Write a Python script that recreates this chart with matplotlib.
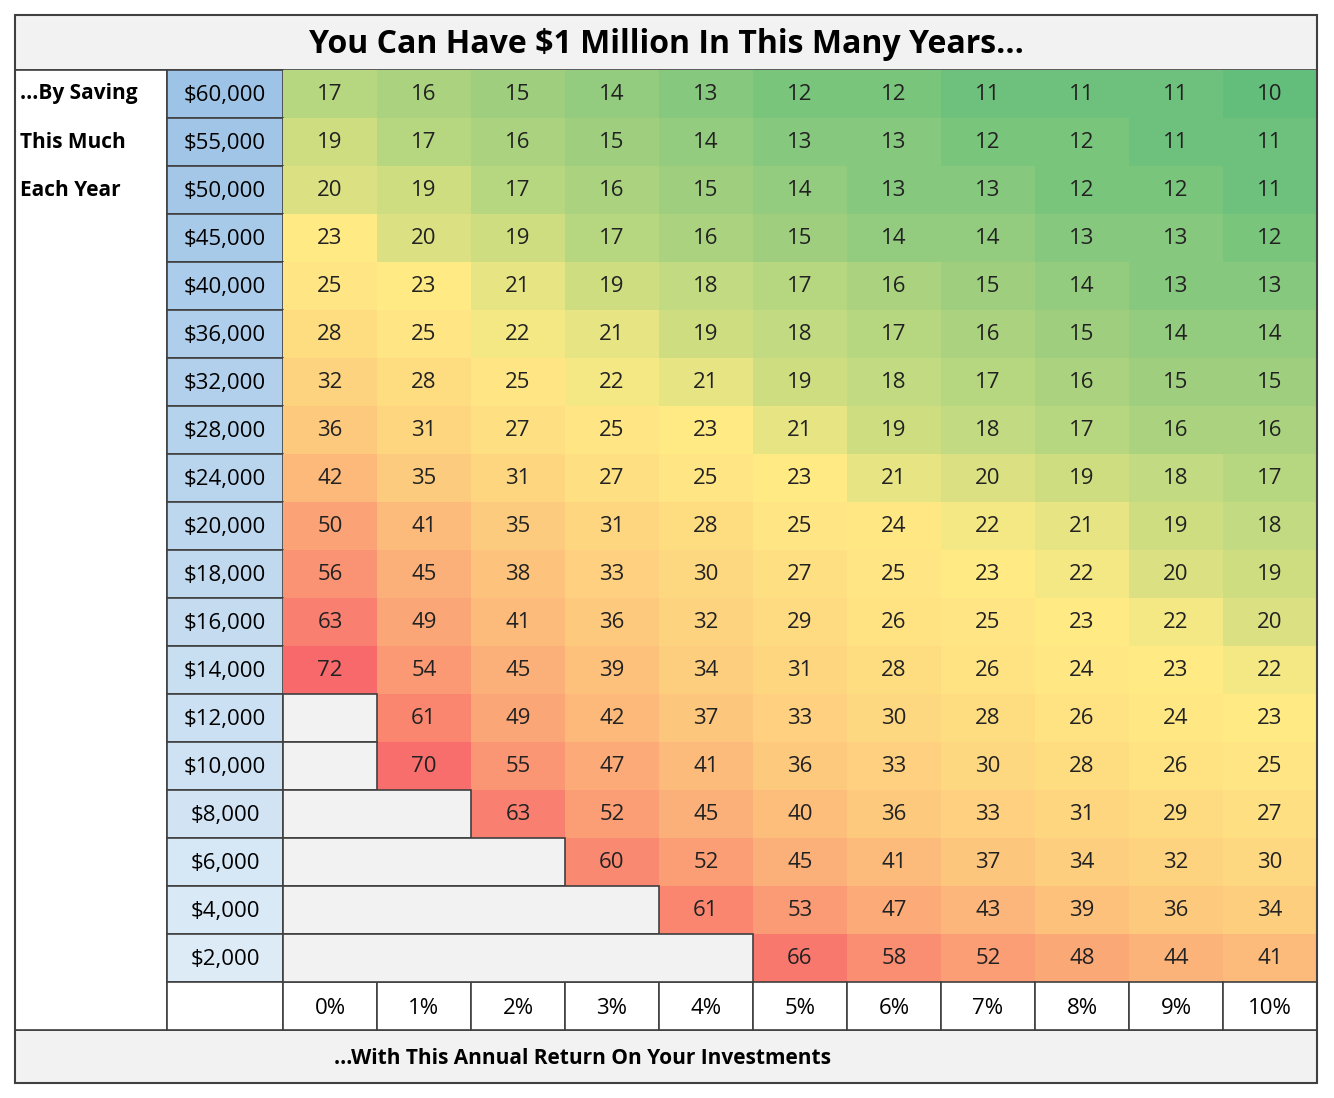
import matplotlib
matplotlib.use("Agg")
import matplotlib.pyplot as plt
import numpy as np
from matplotlib.patches import Rectangle
from matplotlib.colors import LinearSegmentedColormap, TwoSlopeNorm, to_rgb

savings = ["$60,000", "$55,000", "$50,000", "$45,000", "$40,000", "$36,000", "$32,000",
           "$28,000", "$24,000", "$20,000", "$18,000", "$16,000", "$14,000", "$12,000",
           "$10,000", "$8,000", "$6,000", "$4,000", "$2,000"]
returns = ["0%", "1%", "2%", "3%", "4%", "5%", "6%", "7%", "8%", "9%", "10%"]
years = [
    [17, 16, 15, 14, 13, 12, 12, 11, 11, 11, 10],
    [19, 17, 16, 15, 14, 13, 13, 12, 12, 11, 11],
    [20, 19, 17, 16, 15, 14, 13, 13, 12, 12, 11],
    [23, 20, 19, 17, 16, 15, 14, 14, 13, 13, 12],
    [25, 23, 21, 19, 18, 17, 16, 15, 14, 13, 13],
    [28, 25, 22, 21, 19, 18, 17, 16, 15, 14, 14],
    [32, 28, 25, 22, 21, 19, 18, 17, 16, 15, 15],
    [36, 31, 27, 25, 23, 21, 19, 18, 17, 16, 16],
    [42, 35, 31, 27, 25, 23, 21, 20, 19, 18, 17],
    [50, 41, 35, 31, 28, 25, 24, 22, 21, 19, 18],
    [56, 45, 38, 33, 30, 27, 25, 23, 22, 20, 19],
    [63, 49, 41, 36, 32, 29, 26, 25, 23, 22, 20],
    [72, 54, 45, 39, 34, 31, 28, 26, 24, 23, 22],
    [None, 61, 49, 42, 37, 33, 30, 28, 26, 24, 23],
    [None, 70, 55, 47, 41, 36, 33, 30, 28, 26, 25],
    [None, None, 63, 52, 45, 40, 36, 33, 31, 29, 27],
    [None, None, None, 60, 52, 45, 41, 37, 34, 32, 30],
    [None, None, None, None, 61, 53, 47, 43, 39, 36, 34],
    [None, None, None, None, None, 66, 58, 52, 48, 44, 41],
]
side_labels = ["...By Saving", "This Much", "Each Year"]

W, H = 1334, 1098
fig = plt.figure(figsize=(W / 100, H / 100), dpi=100)
ax = fig.add_axes([0, 0, 1, 1])
ax.set_xlim(0, W)
ax.set_ylim(H, 0)
ax.axis("off")
plt.rcParams['font.family'] = ['Open Sans', 'DejaVu Sans']

L, R, T, B = 15, 1317, 15, 1083
title_b = 70
rh = 48
c0, c1 = 167, 283
cw = (R - c1) / len(returns)
grid_b = title_b + rh * len(savings)
xl_b = grid_b + rh
edge = "#404040"

vals = np.array([v for row in years for v in row if v is not None], dtype=float)
cmap = LinearSegmentedColormap.from_list("ryg", ["#63BE7B", "#FFEB84", "#F8696B"])
norm = TwoSlopeNorm(vmin=vals.min(), vcenter=np.percentile(vals, 50), vmax=vals.max())

# title row and bottom caption
ax.add_patch(Rectangle((L, T), R - L, title_b - T, fc="#F2F2F2", ec=edge, lw=1.2))
ax.text((L + R) / 2, (T + title_b) / 2 + 2, "You Can Have $1 Million In This Many Years...",
        ha="center", va="center", fontsize=23, fontweight="bold")
ax.add_patch(Rectangle((L, xl_b), R - L, B - xl_b, fc="#F2F2F2", ec=edge, lw=1.2))
ax.text(583, (xl_b + B) / 2 + 2, "...With This Annual Return On Your Investments",
        ha="center", va="center", fontsize=15, fontweight="bold")

# left label column
ax.add_patch(Rectangle((L, title_b), c0 - L, xl_b - title_b, fc="white", ec=edge, lw=1.2))
for i, s in enumerate(side_labels):
    ax.text(L + 5, title_b + rh * (i + 0.5), s, ha="left", va="center",
            fontsize=15, fontweight="bold")

blue_top, blue_bot = np.array(to_rgb("#9DC3E6")), np.array(to_rgb("#DDEBF7"))
n = len(savings)
for i, s in enumerate(savings):
    y = title_b + rh * i
    f = i / (n - 1)
    ax.add_patch(Rectangle((c0, y), c1 - c0, rh, fc=blue_top * (1 - f) + blue_bot * f,
                           ec=edge, lw=1.2))
    ax.text((c0 + c1) / 2, y + rh / 2 + 1, s, ha="center", va="center", fontsize=16)
    row = years[i]
    blanks = sum(v is None for v in row)
    if blanks:
        ax.add_patch(Rectangle((c1, y), cw * blanks, rh, fc="#F2F2F2", ec=edge, lw=1.2, zorder=3))
    for j, v in enumerate(row):
        if v is None:
            continue
        x = c1 + cw * j
        ax.add_patch(Rectangle((x, y), cw, rh, fc=cmap(norm(v)), ec="none"))
        ax.text(x + cw / 2, y + rh / 2 + 1, str(v), ha="center", va="center", fontsize=16,
                color="#222222", zorder=4)

# x label row
ax.add_patch(Rectangle((c0, grid_b), c1 - c0, rh, fc="white", ec=edge, lw=1.2))
for j, r in enumerate(returns):
    x = c1 + cw * j
    ax.add_patch(Rectangle((x, grid_b), cw, rh, fc="white", ec=edge, lw=1.2))
    ax.text(x + cw / 2, grid_b + rh / 2 + 2, r, ha="center", va="center", fontsize=16)

ax.add_patch(Rectangle((L, T), R - L, B - T, fc="none", ec=edge, lw=1.5, zorder=5))
fig.savefig("out.png", dpi=100)
